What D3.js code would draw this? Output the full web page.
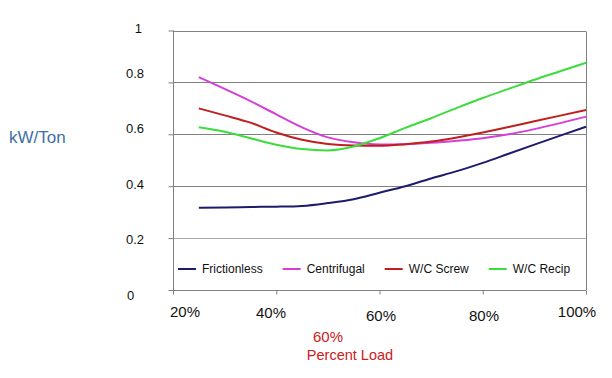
<!DOCTYPE html>
<html>
<head>
<meta charset="utf-8">
<script src="https://cdn.jsdelivr.net/npm/d3@7"></script>
<style>
  body { margin: 0; background: #fff; }
  svg { display: block; font-family: "Liberation Sans", Arial, sans-serif; }
</style>
</head>
<body>
<div id="chart"></div>
<script>
// percent load on x, kW/Ton on y
const loads = [25, 30, 35, 40, 45, 50, 55, 60, 65, 70, 75, 80, 85, 90, 95, 100];
const frictionless = [0.317, 0.318, 0.320, 0.321, 0.324, 0.335, 0.350, 0.375, 0.400, 0.430, 0.458, 0.490, 0.525, 0.560, 0.595, 0.629];
const centrifugal = [0.820, 0.775, 0.728, 0.677, 0.627, 0.588, 0.569, 0.561, 0.562, 0.567, 0.575, 0.585, 0.600, 0.620, 0.643, 0.668];
const wcScrew = [0.700, 0.673, 0.645, 0.607, 0.579, 0.563, 0.557, 0.556, 0.562, 0.572, 0.588, 0.607, 0.628, 0.650, 0.672, 0.694];
const wcRecip = [0.627, 0.610, 0.585, 0.560, 0.543, 0.538, 0.553, 0.585, 0.625, 0.662, 0.702, 0.740, 0.775, 0.810, 0.843, 0.876];

const seriesNames = ["Frictionless", "Centrifugal", "W/C Screw", "W/C Recip"];
const seriesColors = ["#1c1c6b", "#d63fd6", "#c01f1f", "#3ddc3d"];
const xTicks = [20, 40, 60, 80, 100];
const yTicks = [0, 0.2, 0.4, 0.6, 0.8, 1];

const series = [frictionless, centrifugal, wcScrew, wcRecip].map((vals, i) => ({
  name: seriesNames[i],
  color: seriesColors[i],
  values: vals.map((v, j) => ({ x: loads[j], y: v }))
}));

const width = 612, height = 378;
const plot = { left: 173, right: 586, top: 30.5, bottom: 290 };

const svg = d3.select("#chart").append("svg")
  .attr("width", width)
  .attr("height", height);

const x = d3.scaleLinear().domain([20, 100]).range([plot.left, plot.right]);
const y = d3.scaleLinear().domain([0, 1]).range([plot.bottom, plot.top]);

// the labels in the picture sit a bit off their ticks
const xLab = d3.scaleLinear().domain(xTicks).range([185, 271, 381, 484, 577]);
const xLabY = d3.scaleOrdinal().domain(xTicks).range([317, 318, 321, 321, 317]);
const yLab = d3.scaleLinear().domain([0, 0.8, 1]).range([295, 73, 28]);

// grid lines
svg.append("g")
  .selectAll("line")
  .data(yTicks.filter(d => d > 0))
  .enter().append("line")
  .attr("x1", plot.left)
  .attr("x2", plot.right)
  .attr("y1", d => Math.round(y(d)) + 0.5)
  .attr("y2", d => Math.round(y(d)) + 0.5)
  .attr("stroke", d => d === 0.2 ? "#a8a8a8" : "#808080")
  .attr("stroke-width", 1);

// right border
svg.append("line")
  .attr("x1", plot.right + 0.5).attr("x2", plot.right + 0.5)
  .attr("y1", Math.round(plot.top) + 0.5).attr("y2", plot.bottom)
  .attr("stroke", "#808080");

// axes (lines and tick marks only)
const xAxis = svg.append("g")
  .attr("transform", `translate(0,${plot.bottom + 0.5})`)
  .call(d3.axisBottom(x).tickValues(xTicks).tickSize(4).tickFormat(""));
xAxis.select(".domain").attr("stroke", "#808080").attr("d", `M${plot.left},0H${plot.right}`);
xAxis.selectAll(".tick line").attr("stroke", "#808080");

const yAxis = svg.append("g")
  .attr("transform", `translate(${plot.left + 0.5},0)`)
  .call(d3.axisLeft(y).tickValues(yTicks).tickSize(5).tickFormat(""));
yAxis.select(".domain").attr("stroke", "#808080").attr("d", `M0,${plot.top}V${plot.bottom}`);
yAxis.selectAll(".tick line").attr("stroke", "#808080");

// tick labels
svg.append("g")
  .selectAll("text")
  .data(xTicks)
  .enter().append("text")
  .attr("x", d => xLab(d))
  .attr("y", d => xLabY(d))
  .attr("text-anchor", "middle")
  .attr("font-size", 15)
  .attr("fill", "#111")
  .text(d => d + "%");

svg.append("g")
  .selectAll("text")
  .data(yTicks)
  .enter().append("text")
  .attr("x", d => d === 1 ? 142 : (d === 0 ? 127 : 144))
  .attr("y", d => yLab(d))
  .attr("dy", "0.35em")
  .attr("text-anchor", d => d === 0 ? "start" : "end")
  .attr("font-size", 13)
  .attr("fill", "#111")
  .text(d => d === 0 || d === 1 ? d : d.toFixed(1));

// series lines
const line = d3.line()
  .x(d => x(d.x))
  .y(d => y(d.y))
  .curve(d3.curveMonotoneX);

svg.append("g")
  .selectAll("path")
  .data(series)
  .enter().append("path")
  .attr("d", d => line(d.values))
  .attr("fill", "none")
  .attr("stroke", d => d.color)
  .attr("stroke-width", 2);

// legend inside plot
const legend = svg.append("g").attr("font-size", 12);
let lx = 178;
series.forEach(s => {
  const item = legend.append("g").attr("transform", `translate(${lx},269)`);
  item.append("line")
    .attr("x1", 0).attr("x2", 18)
    .attr("stroke", s.color)
    .attr("stroke-width", 2);
  const t = item.append("text")
    .attr("x", 24)
    .attr("dy", "0.35em")
    .attr("fill", "#111")
    .text(s.name);
  lx += 24 + t.node().getComputedTextLength() + 20;
});

// axis titles
svg.append("text")
  .attr("x", 9)
  .attr("y", 137)
  .attr("dy", "0.35em")
  .attr("font-size", 17)
  .attr("fill", "#3f6fa6")
  .text("kW/Ton");

svg.append("text")
  .attr("x", 328)
  .attr("y", 337)
  .attr("dy", "0.35em")
  .attr("text-anchor", "middle")
  .attr("font-size", 15)
  .attr("fill", "#cc2020")
  .text("60%");

svg.append("text")
  .attr("x", 350)
  .attr("y", 355)
  .attr("dy", "0.35em")
  .attr("text-anchor", "middle")
  .attr("font-size", 14.5)
  .attr("fill", "#cc2020")
  .text("Percent Load");
</script>
</body>
</html>
